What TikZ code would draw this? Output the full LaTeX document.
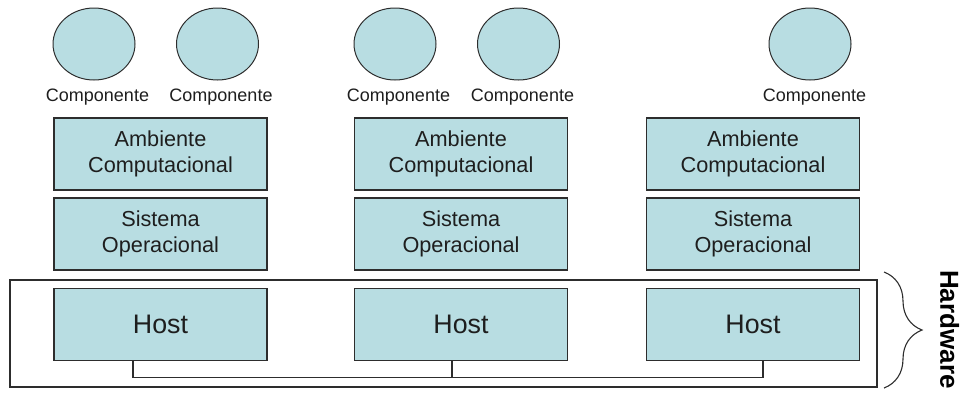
\documentclass[tikz,border=0pt]{standalone}
\usepackage{fontspec}
\setmainfont{Liberation Sans}
\usetikzlibrary{shapes.geometric,decorations.pathreplacing}
\definecolor{caixa}{RGB}{184,221,226}
\definecolor{borda}{RGB}{45,45,45}
\definecolor{texto}{RGB}{30,30,30}
\begin{document}
\begin{tikzpicture}[x=1pt,y=-1pt,
		camada/.style={draw=borda,line width=1.3pt,fill=caixa,minimum width=213pt,minimum height=72pt,align=center,text=texto,font=\fontsize{21.7}{26}\selectfont},
		host/.style={camada,font=\fontsize{26.8}{30}\selectfont},
		comp/.style={ellipse,draw=borda,line width=1pt,fill=caixa,minimum width=82pt,minimum height=72pt},
		rotulo/.style={text=texto,font=\fontsize{18}{21}\selectfont,inner sep=0pt},
		liga/.style={draw=borda,line width=1.1pt}]
	\useasboundingbox (0,0) rectangle (960,392);
	% hardware
	\node[draw=borda,line width=1.1pt,minimum width=867pt,minimum height=107pt,inner sep=0pt] (hw) at (443.5,333.5) {};
	% componentes
	\node[comp] (c1) at (94,44) {};
	\node[comp] (c2) at (217.5,44) {};
	\node[comp] (c3) at (395,44) {};
	\node[comp] (c4) at (518.5,44) {};
	\node[comp] (c5) at (810,44) {};
	\node[rotulo] (l1) at (97.5,97) {Componente};
	\node[rotulo] (l2) at (221,97) {Componente};
	\node[rotulo] (l3) at (398.5,97) {Componente};
	\node[rotulo] (l4) at (522.5,97) {Componente};
	\node[rotulo] (l5) at (814.5,97) {Componente};
	% pilhas
	\foreach \i/\x in {1/160.5,2/461,3/753}{
		\node[camada] (a\i) at (\x,154) {Ambiente\\Computacional};
		\node[camada] (s\i) at (\x,234) {Sistema\\Operacional};
		\node[host] (h\i) at (\x,324.5) {Host};
	}
	% rede
	\draw[liga] ([xshift=-27.5pt]h1.south) -- ++(0,16) -| ([xshift=10pt]h3.south);
	\draw[liga] ([xshift=-9pt]h2.south) -- ++(0,16);
	% chave
	\draw[draw=borda,line width=1.1pt,decorate,decoration={brace,amplitude=38pt}] (884,272) -- (884,388);
	\node[rotate=-90,font=\bfseries\fontsize{26}{30}\selectfont,text=black,anchor=south west,inner sep=0pt] (hwtxt) at (940,270) {Hardware};
\end{tikzpicture}
\end{document}
